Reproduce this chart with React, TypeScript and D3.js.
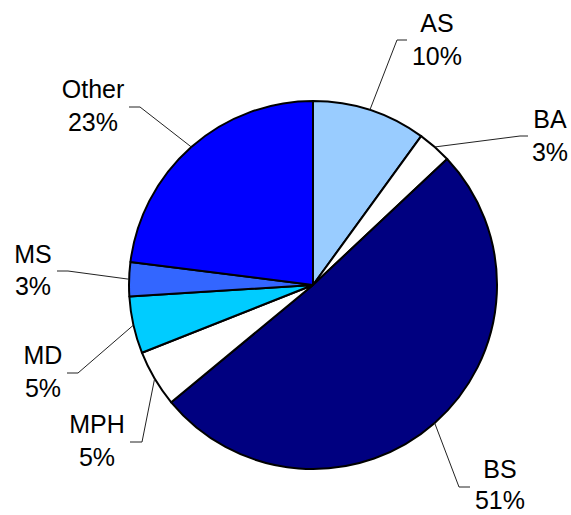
import React from "react";
import * as d3 from "d3";

const categories = ["AS", "BA", "BS", "MPH", "MD", "MS", "Other"];
const values = [10, 3, 51, 5, 5, 3, 23];
const colors = ["#99CCFF", "#FFFFFF", "#000080", "#FFFFFF", "#00CCFF", "#3366FF", "#0000FF"];

// label layout: text center x, first baseline y, line gap, elbow point, horizontal end
const labelLayout = [
  { tx: 437, ty: 32, gap: 33, ex: 397, ey: 40, hx: 407 },
  { tx: 550, ty: 128, gap: 33, ex: 520, ey: 136, hx: 528 },
  { tx: 500, ty: 478, gap: 31, ex: 459, ey: 487, hx: 470 },
  { tx: 97, ty: 433, gap: 33, ex: 142, ey: 442, hx: 130 },
  { tx: 43, ty: 364, gap: 33, ex: 78, ey: 373, hx: 67 },
  { tx: 33, ty: 263, gap: 32, ex: 68, ey: 271, hx: 57 },
  { tx: 93, ty: 98, gap: 33, ex: 140, ey: 107, hx: 129 },
];

export default function App() {
  const W = 571, H = 515;
  const cx = 313, cy = 285, r = 184;
  const total = d3.sum(values);
  const pie = d3.pie<number>().sort(null).value((d) => d)(values);
  const arc = d3.arc<d3.PieArcDatum<number>>().innerRadius(0).outerRadius(r);

  return (
    <svg width={W} height={H} style={{ position: "absolute", left: 0, top: 0, fontFamily: "'Liberation Sans', Arial, sans-serif" }}>
      <g transform={`translate(${cx},${cy})`}>
        {pie.map((p, i) => (
          <path key={i} d={arc(p) || ""} fill={colors[i]} stroke="#000" strokeWidth={2} strokeLinejoin="round" />
        ))}
      </g>
      {pie.map((p, i) => {
        const a = (p.startAngle + p.endAngle) / 2;
        const sx = cx + r * Math.sin(a);
        const sy = cy - r * Math.cos(a);
        const L = labelLayout[i];
        const pct = Math.round((values[i] / total) * 100);
        return (
          <g key={"l" + i}>
            <polyline points={`${sx},${sy} ${L.ex},${L.ey} ${L.hx},${L.ey}`} fill="none" stroke="#222" strokeWidth={1} />
            <text x={L.tx} y={L.ty} textAnchor="middle" fontSize={25} fill="#000">{categories[i]}</text>
            <text x={L.tx} y={L.ty + L.gap} textAnchor="middle" fontSize={25} fill="#000">{pct}%</text>
          </g>
        );
      })}
    </svg>
  );
}
